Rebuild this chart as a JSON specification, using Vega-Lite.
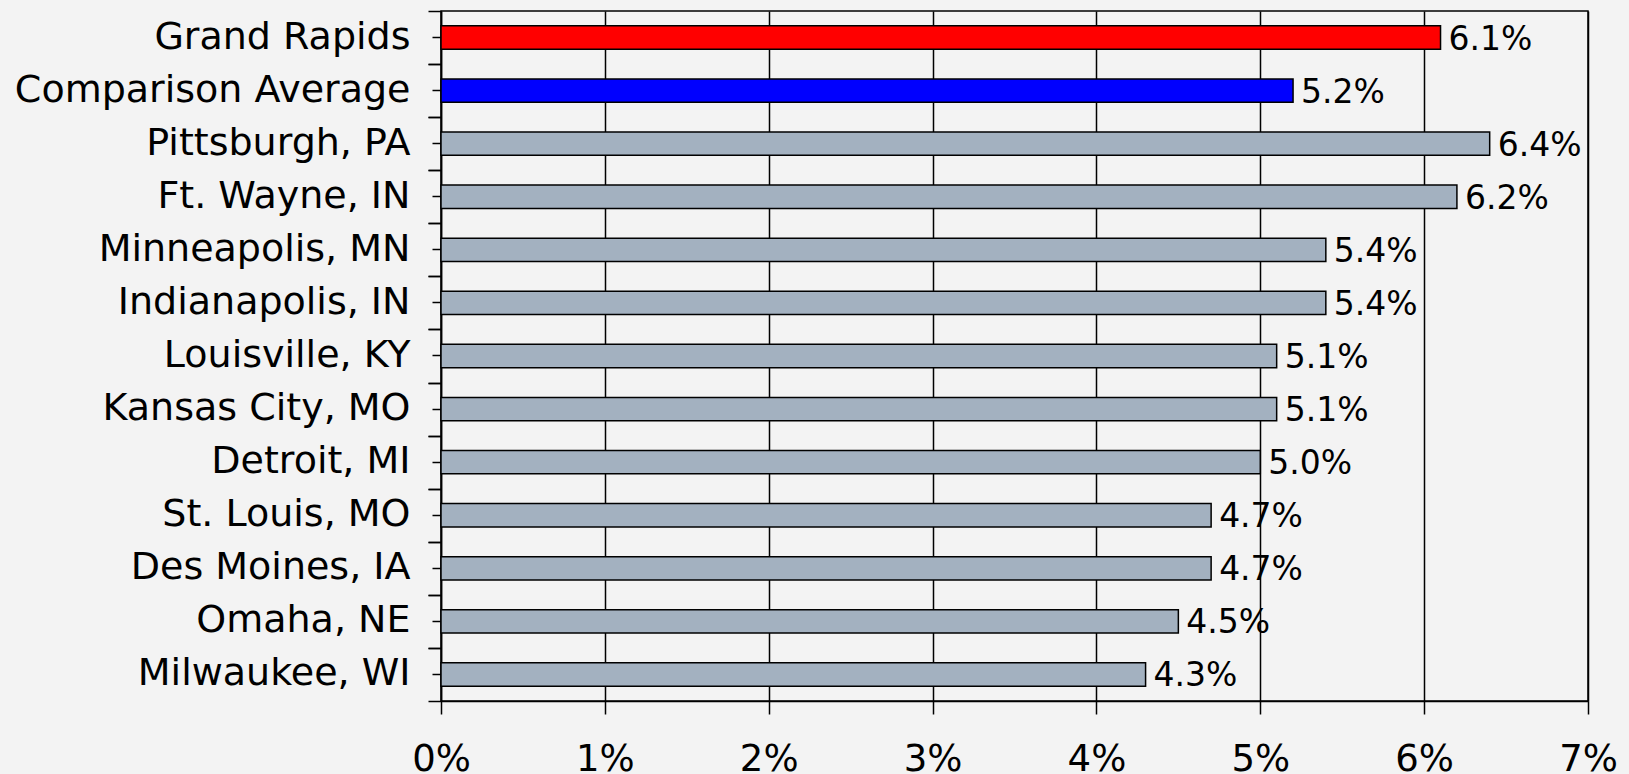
{
  "$schema": "https://vega.github.io/schema/vega-lite/v6.json",
  "autosize": {"type": "none"},
  "padding": {"left": 441, "top": 11, "right": 41, "bottom": 73},
  "width": 1147,
  "height": 690,
  "background": "#f3f3f3",
  "config": {
    "font": "DejaVu Sans",
    "view": {"stroke": "black", "strokeWidth": 1.5, "fill": null}
  },
  "data": {
    "values": [
      {"city": "Grand Rapids", "value": 0.061, "group": "gr"},
      {"city": "Comparison Average", "value": 0.052, "group": "avg"},
      {"city": "Pittsburgh, PA\u00a0", "value": 0.064, "group": "city"},
      {"city": "Ft. Wayne, IN\u00a0", "value": 0.062, "group": "city"},
      {"city": "Minneapolis, MN\u00a0", "value": 0.054, "group": "city"},
      {"city": "Indianapolis, IN\u00a0", "value": 0.054, "group": "city"},
      {"city": "Louisville, KY\u00a0", "value": 0.051, "group": "city"},
      {"city": "Kansas City, MO", "value": 0.051, "group": "city"},
      {"city": "Detroit, MI\u00a0", "value": 0.05, "group": "city"},
      {"city": "St. Louis, MO", "value": 0.047, "group": "city"},
      {"city": "Des Moines, IA\u00a0", "value": 0.047, "group": "city"},
      {"city": "Omaha, NE\u00a0", "value": 0.045, "group": "city"},
      {"city": "Milwaukee, WI", "value": 0.043, "group": "city"}
    ]
  },
  "encoding": {
    "y": {
      "field": "city",
      "type": "nominal",
      "sort": null,
      "scale": {"paddingInner": 0.56, "paddingOuter": 0.28}
    },
    "x": {
      "field": "value",
      "type": "quantitative",
      "scale": {"domain": [0, 0.07], "nice": false}
    }
  },
  "layer": [
    {
      "mark": {"type": "bar", "stroke": "black", "strokeWidth": 1.5},
      "encoding": {
        "y": {
          "field": "city",
          "type": "nominal",
          "sort": null,
          "axis": {
            "orient": "left",
            "title": null,
            "domainColor": "black",
            "domainWidth": 1.5,
            "tickColor": "black",
            "tickWidth": 1.5,
            "tickSize": 9,
            "labelFontSize": 38,
            "labelColor": "black",
            "labelPadding": 22,
            "labelLimit": 0,
            "labelFont": "DejaVu Sans"
          }
        },
        "x": {
          "field": "value",
          "type": "quantitative",
          "axis": {
            "title": null,
            "format": ".0%",
            "values": [0, 0.01, 0.02, 0.03, 0.04, 0.05, 0.06, 0.07],
            "grid": true,
            "gridColor": "black",
            "gridWidth": 1.5,
            "gridOpacity": 1,
            "domainColor": "black",
            "domainWidth": 1.5,
            "tickColor": "black",
            "tickWidth": 1.5,
            "tickSize": 13,
            "labelFontSize": 37,
            "labelColor": "black",
            "labelPadding": 27,
            "labelFlush": false,
            "labelFont": "DejaVu Sans"
          }
        },
        "color": {
          "field": "group",
          "type": "nominal",
          "scale": {"domain": ["gr", "avg", "city"], "range": ["#ff0000", "#0000ff", "#a3b1c0"]},
          "legend": null
        }
      }
    },
    {
      "mark": {"type": "bar", "opacity": 0},
      "encoding": {
        "y": {
          "field": "city",
          "type": "nominal",
          "sort": null,
          "axis": {
            "orient": "left",
            "title": null,
            "labels": false,
            "domain": false,
            "tickOffset": 26.54,
            "tickColor": "black",
            "tickWidth": 1.5,
            "tickSize": 13
          }
        }
      }
    },
    {
      "mark": {"type": "bar", "opacity": 0},
      "encoding": {
        "y": {
          "field": "city",
          "type": "nominal",
          "sort": null,
          "axis": {
            "orient": "left",
            "title": null,
            "labels": false,
            "domain": false,
            "tickOffset": -26.54,
            "tickColor": "black",
            "tickWidth": 1.5,
            "tickSize": 13
          }
        }
      }
    },
    {
      "mark": {"type": "text", "align": "left", "baseline": "middle", "dx": 8, "dy": 2, "fontSize": 33, "font": "DejaVu Sans", "color": "black"},
      "encoding": {
        "y": {"field": "city", "type": "nominal", "sort": null, "axis": null},
        "text": {"field": "value", "type": "quantitative", "format": ".1%"}
      }
    }
  ],
  "resolve": {"axis": {"y": "independent"}}
}
